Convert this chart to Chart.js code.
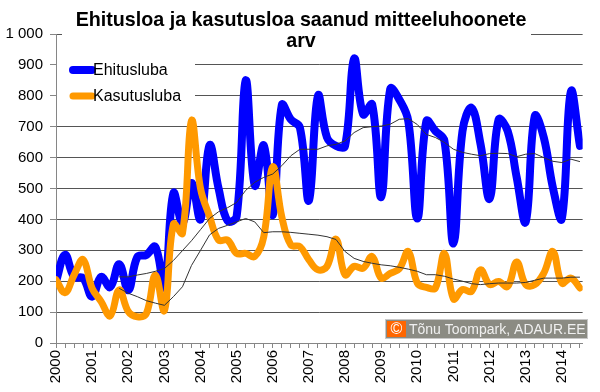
<!DOCTYPE html>
<html>
<head>
<meta charset="utf-8">
<script src="https://cdn.jsdelivr.net/npm/chart.js"></script>
<style>
  html, body { margin: 0; padding: 0; background: #fff; }
  #wrap { width: 600px; height: 392px; }
</style>
</head>
<body>
<div id="wrap"><canvas id="chart" width="600" height="392"></canvas></div>
<script>
const years = ["2000", "2001", "2002", "2003", "2004", "2005", "2006", "2007",
    "2008", "2009", "2010", "2011", "2012", "2013", "2014"];

// kvartalid 2000 I - 2014 III
const quarterLabels = years.flatMap(y => [y, "", "", ""]).slice(0, 59);

const ehitusluba = [200, 285, 214, 210, 150, 214, 181, 255, 171, 278, 285, 311, 181, 485, 388, 518,
    400, 640, 500, 395, 410, 850, 510, 640, 415, 770, 723, 697, 461, 800, 665, 638,
    638, 920, 740, 772, 472, 822, 788, 718, 403, 718, 686, 654, 322, 686, 761, 643,
    467, 723, 686, 536, 392, 734, 665, 504, 403, 814, 638];

const kasutusluba = [205, 163, 220, 270, 177, 134, 88, 172, 102, 85, 95, 220, 105, 385, 355, 720,
    500, 410, 333, 333, 290, 290, 280, 344, 570, 408, 317, 312, 269, 237, 248, 336,
    221, 248, 242, 280, 210, 225, 240, 296, 194, 180, 178, 290, 143, 173, 167, 237,
    189, 199, 183, 262, 189, 189, 226, 296, 194, 210, 178];

// libisevad keskmised (loetud jooniselt)
const ehitusKeskmine = [null, null, null, null, null, null, null, 214, 214, 220, 225, 232, 241, 267, 299, 331,
    367, 403, 425, 438, 455, 494, 520, 536, 547, 574, 606, 627, 627, 627, 638, 643,
    654, 681, 697, 700, 702, 708, 724, 726, 707, 675, 665, 649, 627, 617, 611, 606,
    613, 614, 613, 603, 611, 613, 600, 588, 584, 595, 587];

const kasutusKeskmine = [null, null, null, null, null, null, null, 177, 161, 150, 137, 129, 122, 150, 182, 251,
    300, 350, 371, 381, 392, 403, 392, 357, 360, 360, 358, 355, 352, 349, 344, 335,
    296, 274, 264, 258, 253, 250, 245, 239, 232, 221, 221, 216, 207, 200, 192, 189,
    192, 194, 194, 194, 196, 203, 210, 210, 210, 213, 213];

const yTicks = [0, 100, 200, 300, 400, 500, 600, 700, 800, 900, 1000];

const FONT = '"Liberation Sans", Arial, sans-serif';

function toPoints(arr) {
    return arr.map((v, i) => ({ x: i, y: v }));
}

function fmt(v) {
    return String(v).replace(/\B(?=(\d{3})+(?!\d))/g, " ");
}

const overlay = {
    id: "overlay",
    beforeDatasetsDraw(chart) {
        const ctx = chart.ctx;
        ctx.save();
        ctx.fillStyle = "#fff";
        ctx.fillRect(62, 0, 469, 50);   // pealkirja taust
        ctx.fillRect(57, 52, 138, 58);  // legendi taust
        ctx.restore();
    },
    afterDraw(chart) {
        const ctx = chart.ctx;
        ctx.save();

        // pealkiri
        ctx.fillStyle = "#000";
        ctx.textAlign = "center";
        ctx.textBaseline = "alphabetic";
        ctx.font = "bold 19.7px " + FONT;
        ctx.fillText("Ehitusloa ja kasutusloa saanud mitteeluhoonete", 301, 26);
        ctx.fillText("arv", 301, 47);

        // legend
        const items = [
            { text: "Ehitusluba", color: "#0000ff", width: 8, y: 70 },
            { text: "Kasutusluba", color: "#ff9900", width: 7, y: 96 }
        ];
        ctx.lineCap = "round";
        items.forEach(it => {
            ctx.strokeStyle = it.color;
            ctx.lineWidth = it.width;
            ctx.beginPath();
            ctx.moveTo(73, it.y);
            ctx.lineTo(92, it.y);
            ctx.stroke();
            ctx.fillStyle = "#000";
            ctx.textAlign = "left";
            ctx.textBaseline = "middle";
            ctx.font = "16px " + FONT;
            ctx.fillText(it.text, 93, it.y + 1);
        });

        // autoriõigus
        ctx.fillStyle = "#c8c8c8";
        ctx.fillRect(385, 319, 203, 20);
        ctx.fillStyle = "#8b8b83";
        ctx.fillRect(386, 320, 201, 18);
        ctx.fillStyle = "#ff6600";
        ctx.fillRect(387, 321, 19, 16);
        ctx.fillStyle = "#fff";
        ctx.textAlign = "center";
        ctx.textBaseline = "middle";
        ctx.font = "16px " + FONT;
        ctx.fillText("\u00a9", 396.5, 329.5);
        ctx.fillStyle = "#f0f0f0";
        ctx.textAlign = "left";
        ctx.font = "14px " + FONT;
        ctx.fillText("T\u00f5nu Toompark, ADAUR.EE", 409, 330);

        ctx.restore();
    }
};

new Chart(document.getElementById("chart"), {
    type: "line",
    data: {
        datasets: [
            {
                label: "Ehitusluba keskmine",
                data: toPoints(ehitusKeskmine),
                borderColor: "#333",
                borderWidth: 1,
                tension: 0,
                pointRadius: 0,
                order: 0
            },
            {
                label: "Kasutusluba keskmine",
                data: toPoints(kasutusKeskmine),
                borderColor: "#333",
                borderWidth: 1,
                tension: 0,
                pointRadius: 0,
                order: 0
            },
            {
                label: "Kasutusluba",
                data: toPoints(kasutusluba),
                borderColor: "#ff9900",
                borderWidth: 7,
                tension: 0.4,
                pointRadius: 0,
                borderCapStyle: "round",
                borderJoinStyle: "round",
                order: 1
            },
            {
                label: "Ehitusluba",
                data: toPoints(ehitusluba),
                borderColor: "#0000ff",
                borderWidth: 8,
                tension: 0.4,
                pointRadius: 0,
                borderCapStyle: "round",
                borderJoinStyle: "round",
                order: 2
            }
        ]
    },
    options: {
        responsive: false,
        animation: false,
        layout: { padding: { left: 0, right: 14, top: 34, bottom: 0 } },
        plugins: {
            legend: { display: false },
            title: { display: false },
            tooltip: { enabled: false }
        },
        scales: {
            x: {
                type: "linear",
                min: 0,
                max: 58.3,
                afterBuildTicks: s => { s.ticks = quarterLabels.map((l, i) => ({ value: i })); },
                afterFit: s => { s.height = 49; },
                ticks: {
                    autoSkip: false,
                    minRotation: 90,
                    maxRotation: 90,
                    padding: 2,
                    color: "#000",
                    font: { family: FONT, size: 15 },
                    callback: v => quarterLabels[v] || ""
                },
                grid: {
                    drawOnChartArea: false,
                    drawTicks: true,
                    tickLength: 5,
                    color: "#868686"
                },
                border: { color: "#868686" }
            },
            y: {
                min: 0,
                max: 1000,
                afterBuildTicks: s => { s.ticks = yTicks.map(v => ({ value: v })); },
                afterFit: s => { s.width = 56; },
                ticks: {
                    padding: 7,
                    color: "#000",
                    font: { family: FONT, size: 15 },
                    callback: v => fmt(v)
                },
                grid: {
                    color: "#555",
                    tickColor: "#868686",
                    tickLength: 6
                },
                border: { color: "#868686" }
            }
        }
    },
    plugins: [overlay]
});
</script>
</body>
</html>
